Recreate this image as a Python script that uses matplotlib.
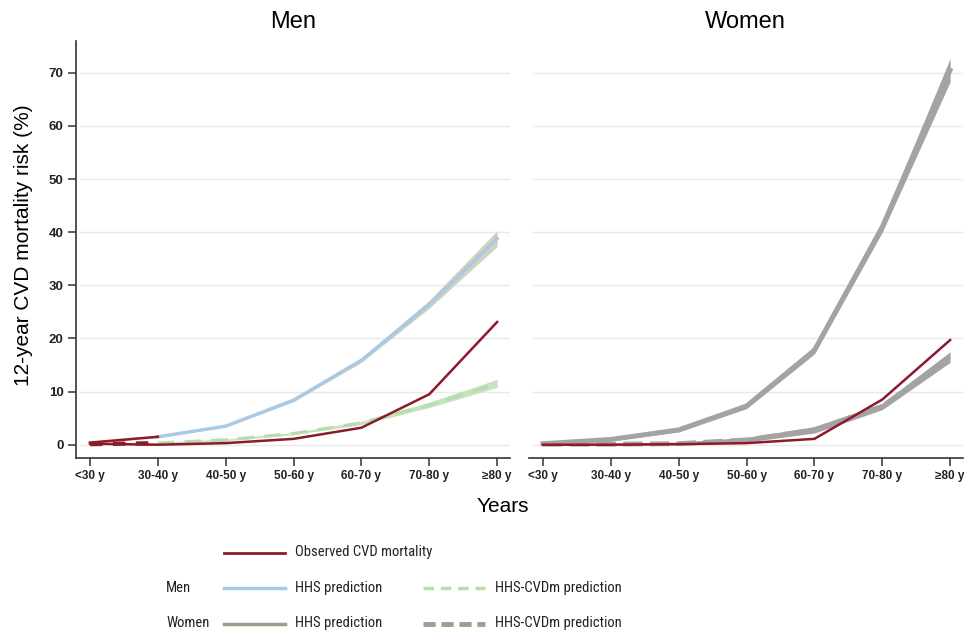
import matplotlib
matplotlib.use("Agg")
import matplotlib.pyplot as plt
from matplotlib.lines import Line2D
from matplotlib import font_manager
import numpy as np

plt.rcParams['font.family'] = ['Liberation Sans', 'DejaVu Sans']

age_groups = ["<30 y", "30-40 y", "40-50 y", "50-60 y", "60-70 y", "70-80 y", "\u226580 y"]

# Men
men_observed = [0.2, 0.0, 0.3, 1.1, 3.2, 9.5, 23.1]
men_hhs = [0.4, 1.5, 3.5, 8.4, 15.9, 26.4, 38.8]
men_hhs_lo = [0.3, 1.3, 3.3, 8.1, 15.5, 25.7, 37.3]
men_hhs_hi = [0.5, 1.7, 3.7, 8.7, 16.3, 27.2, 40.3]
men_cvdm = [0.1, 0.3, 0.9, 2.1, 4.1, 7.5, 11.5]
men_cvdm_lo = [0.0, 0.2, 0.7, 1.9, 3.8, 7.0, 10.8]
men_cvdm_hi = [0.2, 0.4, 1.1, 2.3, 4.4, 8.0, 12.3]

# Women
women_observed = [0.0, 0.0, 0.1, 0.3, 1.1, 8.5, 19.7]
women_hhs = [0.2, 1.0, 2.8, 7.3, 17.8, 41.0, 70.5]
women_hhs_lo = [0.0, 0.7, 2.4, 6.8, 17.1, 40.0, 68.3]
women_hhs_hi = [0.4, 1.3, 3.2, 7.8, 18.5, 42.0, 72.7]
women_cvdm = [0.1, 0.1, 0.2, 0.9, 2.8, 7.2, 16.5]
women_cvdm_lo = [0.0, 0.0, 0.0, 0.5, 2.2, 6.6, 15.5]
women_cvdm_hi = [0.3, 0.3, 0.5, 1.4, 3.4, 7.8, 17.5]

y_ticks = [0, 10, 20, 30, 40, 50, 60, 70]

RED = "#8b1a2b"
BLUE = "#a9c9e6"
GREEN = "#b7dcae"
BAND_OLIVE = "#cfd3bb"
GREY = "#a3a3a3"
GREY_OLIVE = "#a39d8e"

W, H = 967, 633
fig = plt.figure(figsize=(W / 100, H / 100), dpi=100)

def px(x, y):
    return x / W, 1 - y / H

ax_m = fig.add_axes([76 / W, 1 - 458 / H, 434 / W, 417 / H])
ax_w = fig.add_axes([529 / W, 1 - 458 / H, 434 / W, 417 / H])

x = np.arange(len(age_groups))

for ax in (ax_m, ax_w):
    ax.set_xlim(-0.206, 6.19)
    ax.set_ylim(-2.5, 76.0)
    ax.set_xticks(x)
    ax.set_xticklabels(age_groups, fontsize=8.5, fontweight='bold', color='#222222')
    ax.set_yticks(y_ticks)
    for yt in y_ticks:
        ax.axhline(yt, color='#e9e9e9', lw=1.0, zorder=0, xmin=0.01)
    for s in ('top', 'right'):
        ax.spines[s].set_visible(False)
    ax.spines['bottom'].set_color('#333333')
    ax.spines['bottom'].set_linewidth(1.2)
    ax.tick_params(axis='x', length=6, width=1.1, color='#333333', pad=3)

ax_m.spines['left'].set_color('#333333')
ax_m.spines['left'].set_linewidth(1.2)
ax_m.tick_params(axis='y', length=6, width=1.1, color='#333333', labelsize=9.5, pad=3)
for lab in ax_m.get_yticklabels():
    lab.set_fontweight('bold')
    lab.set_color('#222222')
ax_w.spines['left'].set_visible(False)
ax_w.tick_params(axis='y', length=0, labelleft=False)

# Men panel
ax_m.fill_between(x, men_hhs_lo, men_hhs_hi, color=BAND_OLIVE, lw=0, zorder=1)
ax_m.fill_between(x, men_cvdm_lo, men_cvdm_hi, color=GREEN, lw=0, alpha=0.8, zorder=1)
ax_m.plot(x[1:], men_cvdm[1:], color=GREEN, lw=2.4, ls=(0, (5, 3)), zorder=2)
ax_m.plot(x[1:], men_hhs[1:], color=BLUE, lw=2.4, zorder=3)
ax_m.plot(x[:2], men_cvdm[:2], color=RED, lw=3.0, ls=(0, (3, 2.5)), zorder=3)
ax_m.plot(x[:2], men_hhs[:2], color=RED, lw=1.8, zorder=4)
ax_m.plot(x, men_observed, color=RED, lw=1.8, zorder=4)

# Women panel
ax_w.fill_between(x, women_hhs_lo, women_hhs_hi, color=GREY, lw=0, zorder=1)
ax_w.fill_between(x, women_cvdm_lo, women_cvdm_hi, color=GREY, lw=0, zorder=1)
ax_w.plot(x, women_hhs, color=GREY, lw=3.5, zorder=2)
ax_w.plot(x, women_cvdm, color=GREY, lw=3.5, ls=(0, (4, 1.5)), zorder=2)
ax_w.plot(x, women_observed, color=RED, lw=1.8, zorder=4)

fig.text(*px(293, 22), "Men", ha='center', va='center', fontsize=17)
fig.text(*px(745, 22), "Women", ha='center', va='center', fontsize=17)
fig.text(*px(24, 245), "12-year CVD mortality risk (%)", ha='center', va='center',
         rotation=90, fontsize=15)
fig.text(*px(503, 507), "Years", ha='center', va='center', fontsize=15)

# Legend, set in a condensed face when one is installed
installed = {f.name for f in font_manager.fontManager.ttflist}
narrow_choices = [('Liberation Sans Narrow', 10.5), ('Roboto Condensed', 10.5),
                  ('Open Sans Condensed', 10.5), ('DejaVu Sans Condensed', 9.0)]
leg_family, leg_size = 'Liberation Sans', 9.0
for name, size in narrow_choices:
    if name in installed:
        leg_family, leg_size = name, size
        break

def leg_line(x0, x1, y, **kw):
    (a, b), (c, _) = px(x0, y), px(x1, y)
    fig.add_artist(Line2D([a, c], [b, b], transform=fig.transFigure, **kw))

def leg_text(xp, yp, s):
    fig.text(*px(xp, yp), s, ha='left', va='center', fontsize=leg_size,
             family=[leg_family, 'DejaVu Sans'], color='#222222')

leg_line(224, 285, 553, color=RED, lw=2.0)
leg_text(295, 552, "Observed CVD mortality")

leg_text(166, 588, "Men")
leg_line(224, 285, 588, color=BLUE, lw=2.5)
leg_text(295, 588, "HHS prediction")
leg_line(423, 485, 588, color=GREEN, lw=2.5, ls=(0, (3, 2)))
leg_text(495, 588, "HHS-CVDm prediction")

leg_text(166, 623, "Women")
leg_line(224, 285, 624, color=GREY_OLIVE, lw=2.5)
leg_text(295, 623, "HHS prediction")
leg_line(423, 485, 624, color=GREY_OLIVE, lw=3.5, ls=(0, (2.5, 1.2)))
leg_text(495, 623, "HHS-CVDm prediction")

fig.savefig("out.png", dpi=100)
